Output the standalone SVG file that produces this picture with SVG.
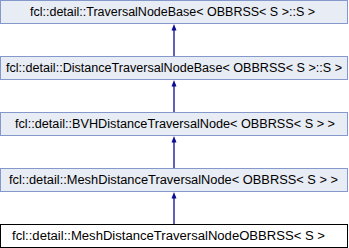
<svg xmlns="http://www.w3.org/2000/svg" width="349" height="248" viewBox="0 0 349 248">
  <style>
    .box rect { fill: #e8ecf4; stroke: #8498cc; stroke-width: 1; }
    .leaf rect { fill: #ffffff; stroke: #000000; stroke-width: 1; }
    text { font-family: "Liberation Sans", Arial, sans-serif; font-size: 12px; fill: #000000; }
    .edge { stroke: #0c0c90; stroke-width: 1.3; fill: none; }
    .head { fill: #0c0c90; stroke: none; }
  </style>
  <rect width="349" height="248" fill="#ffffff"/>

  <g id="node-traversal-base" class="box">
    <rect x="0.5" y="0.5" width="347" height="23"/>
    <text x="30" y="16" textLength="285" lengthAdjust="spacingAndGlyphs">fcl::detail::TraversalNodeBase&lt; OBBRSS&lt; S &gt;::S &gt;</text>
  </g>
  <g id="node-distance-traversal-base" class="box">
    <rect x="0.5" y="56.5" width="347" height="23"/>
    <text x="6" y="72" textLength="336" lengthAdjust="spacingAndGlyphs">fcl::detail::DistanceTraversalNodeBase&lt; OBBRSS&lt; S &gt;::S &gt;</text>
  </g>
  <g id="node-bvh-distance" class="box">
    <rect x="0.5" y="112.5" width="347" height="23"/>
    <text x="15" y="128" textLength="320" lengthAdjust="spacingAndGlyphs">fcl::detail::BVHDistanceTraversalNode&lt; OBBRSS&lt; S &gt; &gt;</text>
  </g>
  <g id="node-mesh-distance" class="box">
    <rect x="0.5" y="168.5" width="347" height="23"/>
    <text x="9" y="184" textLength="329" lengthAdjust="spacingAndGlyphs">fcl::detail::MeshDistanceTraversalNode&lt; OBBRSS&lt; S &gt; &gt;</text>
  </g>
  <g id="node-mesh-distance-obbrss" class="leaf">
    <rect x="0.5" y="224.5" width="347" height="23"/>
    <text x="12" y="240" textLength="313" lengthAdjust="spacingAndGlyphs">fcl::detail::MeshDistanceTraversalNodeOBBRSS&lt; S &gt;</text>
  </g>

  <g id="connectors">
    <line class="edge" x1="174" y1="30" x2="174" y2="56"/>
    <polygon class="head" points="174,24 171.5,30.5 176.5,30.5"/>
    <line class="edge" x1="174" y1="86" x2="174" y2="112"/>
    <polygon class="head" points="174,80 171.5,86.5 176.5,86.5"/>
    <line class="edge" x1="174" y1="142" x2="174" y2="168"/>
    <polygon class="head" points="174,136 171.5,142.5 176.5,142.5"/>
    <line class="edge" x1="174" y1="198" x2="174" y2="224"/>
    <polygon class="head" points="174,192 171.5,198.5 176.5,198.5"/>
  </g>
</svg>
